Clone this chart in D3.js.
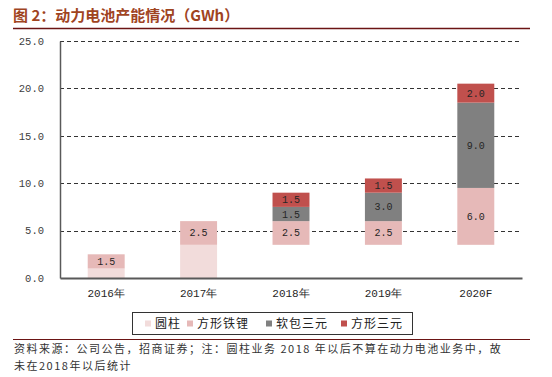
<!DOCTYPE html>
<html>
<head>
<meta charset="utf-8">
<script src="https://cdn.jsdelivr.net/npm/d3@7"></script>
<style>
  body { margin: 0; background: #fff; }
  svg { display: block; }
</style>
</head>
<body>
<div id="chart"></div>
<script>
// dati
const categories = ["2016年", "2017年", "2018年", "2019年", "2020F"];
const hiddenBase = [0, 0, 3.5, 3.5, 3.5];   //圆柱 non contato dal 2018
const cylinder = [1.0, 3.5, 0, 0, 0];
const lfpPrism = [1.5, 2.5, 2.5, 2.5, 6.0];
const pouchNcm = [0, 0, 1.5, 3.0, 9.0];
const prismNcm = [0, 0, 1.5, 1.5, 2.0];
const seriesNames = ["圆柱", "方形铁锂", "软包三元", "方形三元"];
const yTicks = [0, 5, 10, 15, 20, 25];

const width = 552, height = 377;
const margin = { left: 60, right: 30, top: 41, bottom: 99 };

const svg = d3.select("#chart").append("svg")
    .attr("width", width)
    .attr("height", height);

// titolo
svg.append("text")
    .attr("x", 13).attr("y", 21)
    .attr("font-family", "Noto Sans CJK SC")
    .attr("font-size", "15px")
    .attr("font-weight", "bold")
    .attr("fill", "#a0441f")
    .text("图 2：动力电池产能情况（GWh）");

svg.append("line")
    .attr("x1", 13).attr("x2", 530)
    .attr("y1", 28.5).attr("y2", 28.5)
    .attr("stroke", "#6b1414").attr("stroke-width", 1.5);

const rows = categories.map((c, i) => ({
    cat: c,
    base: hiddenBase[i],
    cyl: cylinder[i],
    lfp: lfpPrism[i],
    pouch: pouchNcm[i],
    prism: prismNcm[i]
}));
const keys = ["base", "cyl", "lfp", "pouch", "prism"];
const colors = { base: "none", cyl: "#f2dcdb", lfp: "#e6b9b8", pouch: "#808080", prism: "#c0504d" };

const x = d3.scaleBand()
    .domain(categories)
    .range([margin.left, width - margin.right])
    .paddingInner(0.6)
    .paddingOuter(0.3);

const y = d3.scaleLinear()
    .domain([0, 25])
    .range([height - margin.bottom, margin.top]);

// griglia tratteggiata
svg.append("g")
    .selectAll("line")
    .data(yTicks.filter(t => t > 0))
    .enter().append("line")
    .attr("x1", margin.left).attr("x2", width - margin.right)
    .attr("y1", d => Math.round(y(d)) + 0.5).attr("y2", d => Math.round(y(d)) + 0.5)
    .attr("stroke", "#333")
    .attr("stroke-dasharray", "4,3");

const stacked = d3.stack().keys(keys)(rows);

const layer = svg.append("g")
    .selectAll("g")
    .data(stacked)
    .enter().append("g")
    .attr("fill", d => colors[d.key]);

layer.selectAll("rect")
    .data(d => d.map(p => ({ key: d.key, p })))
    .enter().append("rect")
    .filter(d => d.key !== "base" && d.p[1] - d.p[0] > 0)
    .attr("x", d => x(d.p.data.cat))
    .attr("width", x.bandwidth())
    .attr("y", d => y(d.p[1]))
    .attr("height", d => y(d.p[0]) - y(d.p[1]));

// etichette dei valori
const labelData = [];
stacked.forEach(s => {
    if (s.key === "base" || s.key === "cyl") return;
    s.forEach(p => {
        if (p[1] - p[0] > 0) labelData.push({ cat: p.data.cat, v: p[1] - p[0], mid: (p[0] + p[1]) / 2 });
    });
});

svg.append("g")
    .selectAll("text")
    .data(labelData)
    .enter().append("text")
    .attr("x", d => x(d.cat) + x.bandwidth() / 2)
    .attr("y", d => y(d.mid))
    .attr("dy", "0.35em")
    .attr("text-anchor", "middle")
    .attr("font-family", "Liberation Mono")
    .attr("font-size", "10px")
    .attr("fill", "#262626")
    .text(d => d3.format(".1f")(d.v));

// assi
const yAxis = svg.append("g")
    .attr("transform", `translate(${margin.left},0)`)
    .call(d3.axisLeft(y).tickValues(yTicks).tickSize(0).tickPadding(16).tickFormat(d3.format(".1f")));
yAxis.select(".domain").attr("stroke", "#595959").attr("stroke-width", 1.5);
yAxis.selectAll("text")
    .attr("font-family", "Liberation Mono")
    .attr("font-size", "10.5px")
    .attr("fill", "#404040");

const xAxis = svg.append("g")
    .attr("transform", `translate(0,${height - margin.bottom})`)
    .call(d3.axisBottom(x).tickSize(0).tickPadding(11));
xAxis.select(".domain").attr("stroke", "#595959").attr("stroke-width", 2);
xAxis.selectAll("text")
    .attr("font-family", "Liberation Mono")
    .attr("font-size", "11px")
    .attr("fill", "#262626");

// legenda
const legend = svg.append("g");
legend.append("rect")
    .attr("x", 132.5).attr("y", 312.5)
    .attr("width", 280).attr("height", 22)
    .attr("fill", "#fff")
    .attr("stroke", "#333");

const legendX = [145, 187, 266, 341];
const legendColors = [colors.cyl, colors.lfp, colors.pouch, colors.prism];
const item = legend.selectAll("g.item")
    .data(seriesNames)
    .enter().append("g")
    .attr("class", "item")
    .attr("transform", (d, i) => `translate(${legendX[i]},323.5)`);
item.append("rect")
    .attr("x", 0).attr("y", -3)
    .attr("width", 6).attr("height", 6)
    .attr("fill", (d, i) => legendColors[i]);
item.append("text")
    .attr("x", 10)
    .attr("dy", "0.38em")
    .attr("font-family", "Noto Sans CJK SC")
    .attr("font-size", "12px")
    .attr("letter-spacing", "1px")
    .attr("fill", "#222")
    .text(d => d);

// nota in basso
svg.append("line")
    .attr("x1", 13).attr("x2", 530)
    .attr("y1", 339.5).attr("y2", 339.5)
    .attr("stroke", "#6b1414").attr("stroke-width", 1.2);

const notes = [
    "资料来源：公司公告，招商证券；注：圆柱业务 2018 年以后不算在动力电池业务中，故",
    "未在2018年以后统计"
];
svg.append("g")
    .selectAll("text")
    .data(notes)
    .enter().append("text")
    .attr("x", 14)
    .attr("y", (d, i) => 353 + i * 17)
    .attr("font-family", "Noto Sans CJK SC")
    .attr("font-size", "11px")
    .attr("letter-spacing", "1.5px")
    .attr("fill", "#333")
    .text(d => d);
</script>
</body>
</html>
